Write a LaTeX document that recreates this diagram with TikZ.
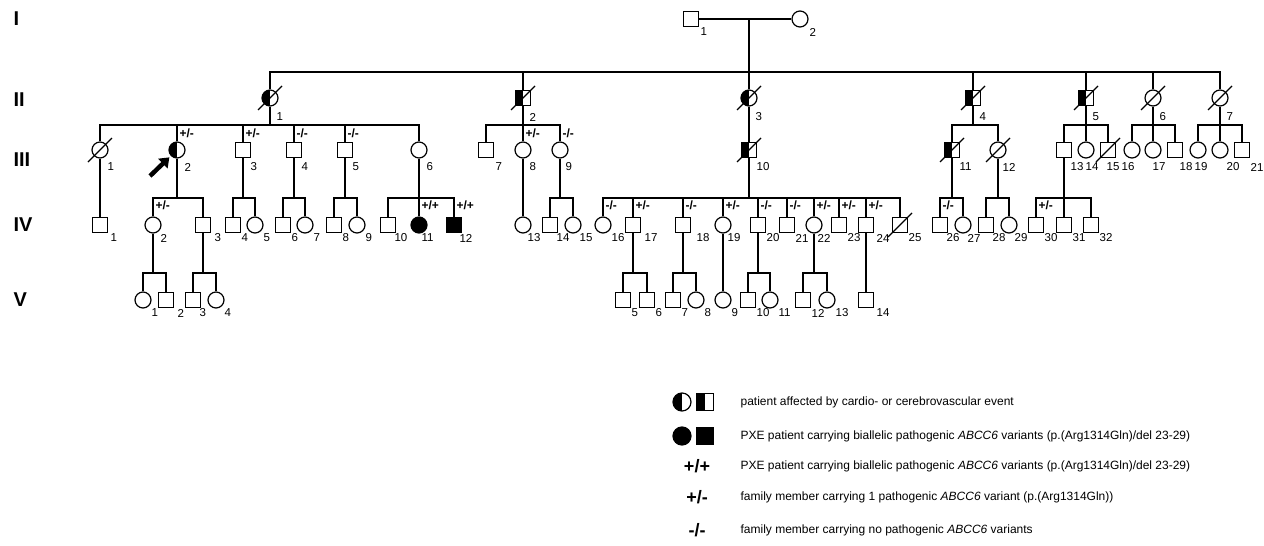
\documentclass[tikz,border=0pt]{standalone}
\usepackage{fontspec}
\setmainfont{Liberation Sans}
\usetikzlibrary{arrows.meta}

\tikzset{
    male/.style={draw, rectangle, minimum size=15pt, inner sep=0pt},
    female/.style={draw, circle, minimum size=16pt, inner sep=0pt},
    half/.style={path picture={\fill[black] (path picture bounding box.south west) rectangle (path picture bounding box.north);}},
    aff/.style={fill=black},
    slash/.style={line width=1.2pt},
    num/.style={anchor=west, inner sep=0pt, font=\fontsize{11.5}{13}\selectfont},
    geno/.style={anchor=west, inner sep=0pt, font=\fontsize{12}{14}\selectfont\bfseries},
    gen/.style={anchor=west, inner sep=0pt, font=\fontsize{20}{24}\selectfont\bfseries},
    legtext/.style={anchor=west, inner sep=0pt, font=\fontsize{12}{14}\selectfont},
    leggeno/.style={inner sep=0pt, font=\fontsize{18}{20}\selectfont\bfseries},
    proband/.style={line width=4.5pt, -{Triangle[length=9pt,width=13pt]}, shorten >=2pt},
}

% symbol and its number
\newcommand\person[6][0]{%
    \node[#2] (#3) at (#4,#5) {};
    \node[num] (#3n) at ([xshift=\ldx pt, xshift=#1 pt, yshift=-\ldy pt]#3.center) {#6};
}
\newcommand\deceased[1]{%
    \draw[slash] ([shift={(-12,12)}]#1.center) -- ([shift={(12,-12)}]#1.center);
}
\newcommand\gtype[2]{%
    \node[geno] (#1g) at ([xshift=2pt, yshift=\gdy pt]#1.center) {#2};
}

\begin{document}
\begin{tikzpicture}[x=1pt, y=-1pt, line width=1.2pt]
    \useasboundingbox (0,0) rectangle (1264,546);

    \node[gen] (genI) at (13,19) {I};
    \node[gen] (genII) at (13,100) {II};
    \node[gen] (genIII) at (13,160) {III};
    \node[gen] (genIV) at (13,225) {IV};
    \node[gen] (genV) at (13,300) {V};

    % generation I
    \def\ldx{9}\def\ldy{13}
    \person{male}{I1}{691}{19}{1}
    \person{female}{I2}{800}{19}{2}

    % generation II
    \def\ldx{6}\def\ldy{19}
    \person{female,half}{II1}{270}{98}{1}
    \person{male,half}{II2}{523}{98}{2}
    \person{female,half}{II3}{749}{98}{3}
    \person{male,half}{II4}{973}{98}{4}
    \person{male,half}{II5}{1086}{98}{5}
    \person{female}{II6}{1153}{98}{6}
    \person{female}{II7}{1220}{98}{7}

    % generation III
    \def\ldx{7}\def\ldy{17}
    \person{female}{III1}{100}{150}{1}
    \person{female,half}{III2}{177}{150}{2}
    \person{male}{III3}{243}{150}{3}
    \person{male}{III4}{294}{150}{4}
    \person{male}{III5}{345}{150}{5}
    \person{female}{III6}{419}{150}{6}
    \person[2]{male}{III7}{486}{150}{7}
    \person[-1]{female}{III8}{523}{150}{8}
    \person[-2]{female}{III9}{560}{150}{9}
    \person{male,half}{III10}{749}{150}{10}
    \person{male,half}{III11}{952}{150}{11}
    \person[-3]{female}{III12}{998}{150}{12}
    \person[-1]{male}{III13}{1064}{150}{13}
    \person[-8]{female}{III14}{1086}{150}{14}
    \person[-9]{male}{III15}{1108}{150}{15}
    \person[-18]{female}{III16}{1132}{150}{16}
    \person[-8]{female}{III17}{1153}{150}{17}
    \person[-3]{male}{III18}{1175}{150}{18}
    \person[-11]{female}{III19}{1198}{150}{19}
    \person[-1]{female}{III20}{1220}{150}{20}
    \person[1]{male}{III21}{1242}{150}{21}

    % generation IV
    \def\ldx{8}\def\ldy{13}
    \person[2]{male}{IV1}{100}{225}{1}
    \person[-1]{female}{IV2}{153}{225}{2}
    \person[3]{male}{IV3}{203}{225}{3}
    \person{male}{IV4}{233}{225}{4}
    \person{female}{IV5}{255}{225}{5}
    \person{male}{IV6}{283}{225}{6}
    \person{female}{IV7}{305}{225}{7}
    \person{male}{IV8}{334}{225}{8}
    \person{female}{IV9}{357}{225}{9}
    \person[-2]{male}{IV10}{388}{225}{10}
    \person[-6]{female,aff}{IV11}{419}{225}{11}
    \person[-3]{male,aff}{IV12}{454}{225}{12}
    \person[-4]{female}{IV13}{523}{225}{13}
    \person[-2]{male}{IV14}{550}{225}{14}
    \person[-2]{female}{IV15}{573}{225}{15}
    \person{female}{IV16}{603}{225}{16}
    \person[3]{male}{IV17}{633}{225}{17}
    \person[5]{male}{IV18}{683}{225}{18}
    \person[-4]{female}{IV19}{723}{225}{19}
    \person{male}{IV20}{758}{225}{20}
    \person{male}{IV21}{787}{225}{21}
    \person[-5]{female}{IV22}{814}{225}{22}
    \person{male}{IV23}{839}{225}{23}
    \person[2]{male}{IV24}{866}{225}{24}
    \person{male}{IV25}{900}{225}{25}
    \person[-2]{male}{IV26}{940}{225}{26}
    \person[-4]{female}{IV27}{963}{225}{27}
    \person[-2]{male}{IV28}{986}{225}{28}
    \person[-3]{female}{IV29}{1009}{225}{29}
    \person{male}{IV30}{1036}{225}{30}
    \person{male}{IV31}{1064}{225}{31}
    \person{male}{IV32}{1091}{225}{32}

    % generation V
    \person{female}{V1}{143}{300}{1}
    \person[3]{male}{V2}{166}{300}{2}
    \person[-2]{male}{V3}{193}{300}{3}
    \person{female}{V4}{216}{300}{4}
    \person{male}{V5}{623}{300}{5}
    \person{male}{V6}{647}{300}{6}
    \person{male}{V7}{673}{300}{7}
    \person{female}{V8}{696}{300}{8}
    \person{female}{V9}{723}{300}{9}
    \person{male}{V10}{748}{300}{10}
    \person{female}{V11}{770}{300}{11}
    \person{male}{V12}{803}{300}{12}
    \person{female}{V13}{827}{300}{13}
    \person[2]{male}{V14}{866}{300}{14}

    \foreach \p in {II1,II2,II3,II4,II5,II6,II7,III1,III10,III11,III12,III15,IV25}
        \deceased{\p};

    % genotypes
    \def\gdy{17}
    \gtype{III2}{+/-}
    \gtype{III3}{+/-}
    \gtype{III4}{-/-}
    \gtype{III5}{-/-}
    \gtype{III8}{+/-}
    \gtype{III9}{-/-}
    \def\gdy{20}
    \gtype{IV2}{+/-}
    \gtype{IV11}{+/+}
    \gtype{IV12}{+/+}
    \gtype{IV16}{-/-}
    \gtype{IV17}{+/-}
    \gtype{IV18}{-/-}
    \gtype{IV19}{+/-}
    \gtype{IV20}{-/-}
    \gtype{IV21}{-/-}
    \gtype{IV22}{+/-}
    \gtype{IV23}{+/-}
    \gtype{IV24}{+/-}
    \gtype{IV26}{-/-}
    \gtype{IV30}{+/-}

    % sibship points
    \coordinate (mI) at (749,19);
    \coordinate (sII) at (749,72);
    \coordinate (sIII1) at (270,125);
    \coordinate (sIII2) at (523,125);
    \coordinate (sIII4) at (973,125);
    \coordinate (sIII5) at (1086,125);
    \coordinate (sIII6) at (1153,125);
    \coordinate (sIII7) at (1220,125);
    \coordinate (sIV2) at (177,198);
    \coordinate (sIV3) at (243,198);
    \coordinate (sIV4) at (294,198);
    \coordinate (sIV5) at (345,198);
    \coordinate (sIV6) at (419,198);
    \coordinate (sIV9) at (560,198);
    \coordinate (sIV10) at (749,198);
    \coordinate (sIV11) at (952,198);
    \coordinate (sIV12) at (998,198);
    \coordinate (sIV13) at (1064,198);
    \coordinate (sV2) at (153,273);
    \coordinate (sV3) at (203,273);
    \coordinate (sV17) at (633,273);
    \coordinate (sV18) at (683,273);
    \coordinate (sV20) at (758,273);
    \coordinate (sV22) at (814,273);

    % connectors
    \draw (I1) -- (I2);
    \draw (mI) -- (II3);
    \draw (II1) |- (sII) -| (II7);
    \foreach \c in {II2,II4,II5,II6}
        \draw (\c) -- (\c |- sII);

    \draw (II1) -- (sIII1);
    \draw (III1) |- (sIII1) -| (III6);
    \foreach \c in {III2,III3,III4,III5}
        \draw (\c) -- (\c |- sIII1);
    \draw (II2) -- (III8);
    \draw (III7) |- (sIII2) -| (III9);
    \draw (II3) -- (III10);
    \draw (II4) -- (sIII4);
    \draw (III11) |- (sIII4) -| (III12);
    \draw (II5) -- (III14);
    \draw (III13) |- (sIII5) -| (III15);
    \draw (II6) -- (III17);
    \draw (III16) |- (sIII6) -| (III18);
    \draw (II7) -- (III20);
    \draw (III19) |- (sIII7) -| (III21);

    \draw (III1) -- (IV1);
    \draw (III2) -- (sIV2);
    \draw (IV2) |- (sIV2) -| (IV3);
    \draw (III3) -- (sIV3);
    \draw (IV4) |- (sIV3) -| (IV5);
    \draw (III4) -- (sIV4);
    \draw (IV6) |- (sIV4) -| (IV7);
    \draw (III5) -- (sIV5);
    \draw (IV8) |- (sIV5) -| (IV9);
    \draw (III6) -- (IV11);
    \draw (IV10) |- (sIV6) -| (IV12);
    \draw (III8) -- (IV13);
    \draw (III9) -- (sIV9);
    \draw (IV14) |- (sIV9) -| (IV15);
    \draw (III10) -- (sIV10);
    \draw (IV16) |- (sIV10) -| (IV25);
    \foreach \c in {IV17,IV18,IV19,IV20,IV21,IV22,IV23,IV24}
        \draw (\c) -- (\c |- sIV10);
    \draw (III11) -- (sIV11);
    \draw (IV26) |- (sIV11) -| (IV27);
    \draw (III12) -- (sIV12);
    \draw (IV28) |- (sIV12) -| (IV29);
    \draw (III13) -- (IV31);
    \draw (IV30) |- (sIV13) -| (IV32);

    \draw (IV2) -- (sV2);
    \draw (V1) |- (sV2) -| (V2);
    \draw (IV3) -- (sV3);
    \draw (V3) |- (sV3) -| (V4);
    \draw (IV17) -- (sV17);
    \draw (V5) |- (sV17) -| (V6);
    \draw (IV18) -- (sV18);
    \draw (V7) |- (sV18) -| (V8);
    \draw (IV19) -- (V9);
    \draw (IV20) -- (sV20);
    \draw (V10) |- (sV20) -| (V11);
    \draw (IV22) -- (sV22);
    \draw (V12) |- (sV22) -| (V13);
    \draw (IV24) -- (V14);

    % proband
    \coordinate (prob) at (150,176);
    \draw[proband] (prob) -- (III2);

    % legend
    \node[female, half, minimum size=18pt] (legA) at (682,402) {};
    \node[male, half, minimum size=17pt] (legB) at (705,402) {};
    \node[legtext] (legAt) at (740,402) {patient affected by cardio- or cerebrovascular event};
    \node[female, aff, minimum size=18pt] (legC) at (682,436) {};
    \node[male, aff, minimum size=17pt] (legD) at (705,436) {};
    \node[legtext] (legCt) at (740,436) {PXE patient carrying biallelic pathogenic \textit{ABCC6} variants (p.(Arg1314Gln)/del 23-29)};
    \node[leggeno] (legE) at (697,466) {+/+};
    \node[legtext] (legEt) at (740,466) {PXE patient carrying biallelic pathogenic \textit{ABCC6} variants (p.(Arg1314Gln)/del 23-29)};
    \node[leggeno] (legF) at (697,497) {+/-};
    \node[legtext] (legFt) at (740,497) {family member carrying 1 pathogenic \textit{ABCC6} variant (p.(Arg1314Gln))};
    \node[leggeno] (legG) at (697,530) {-/-};
    \node[legtext] (legGt) at (740,530) {family member carrying no pathogenic \textit{ABCC6} variants};
\end{tikzpicture}
\end{document}
